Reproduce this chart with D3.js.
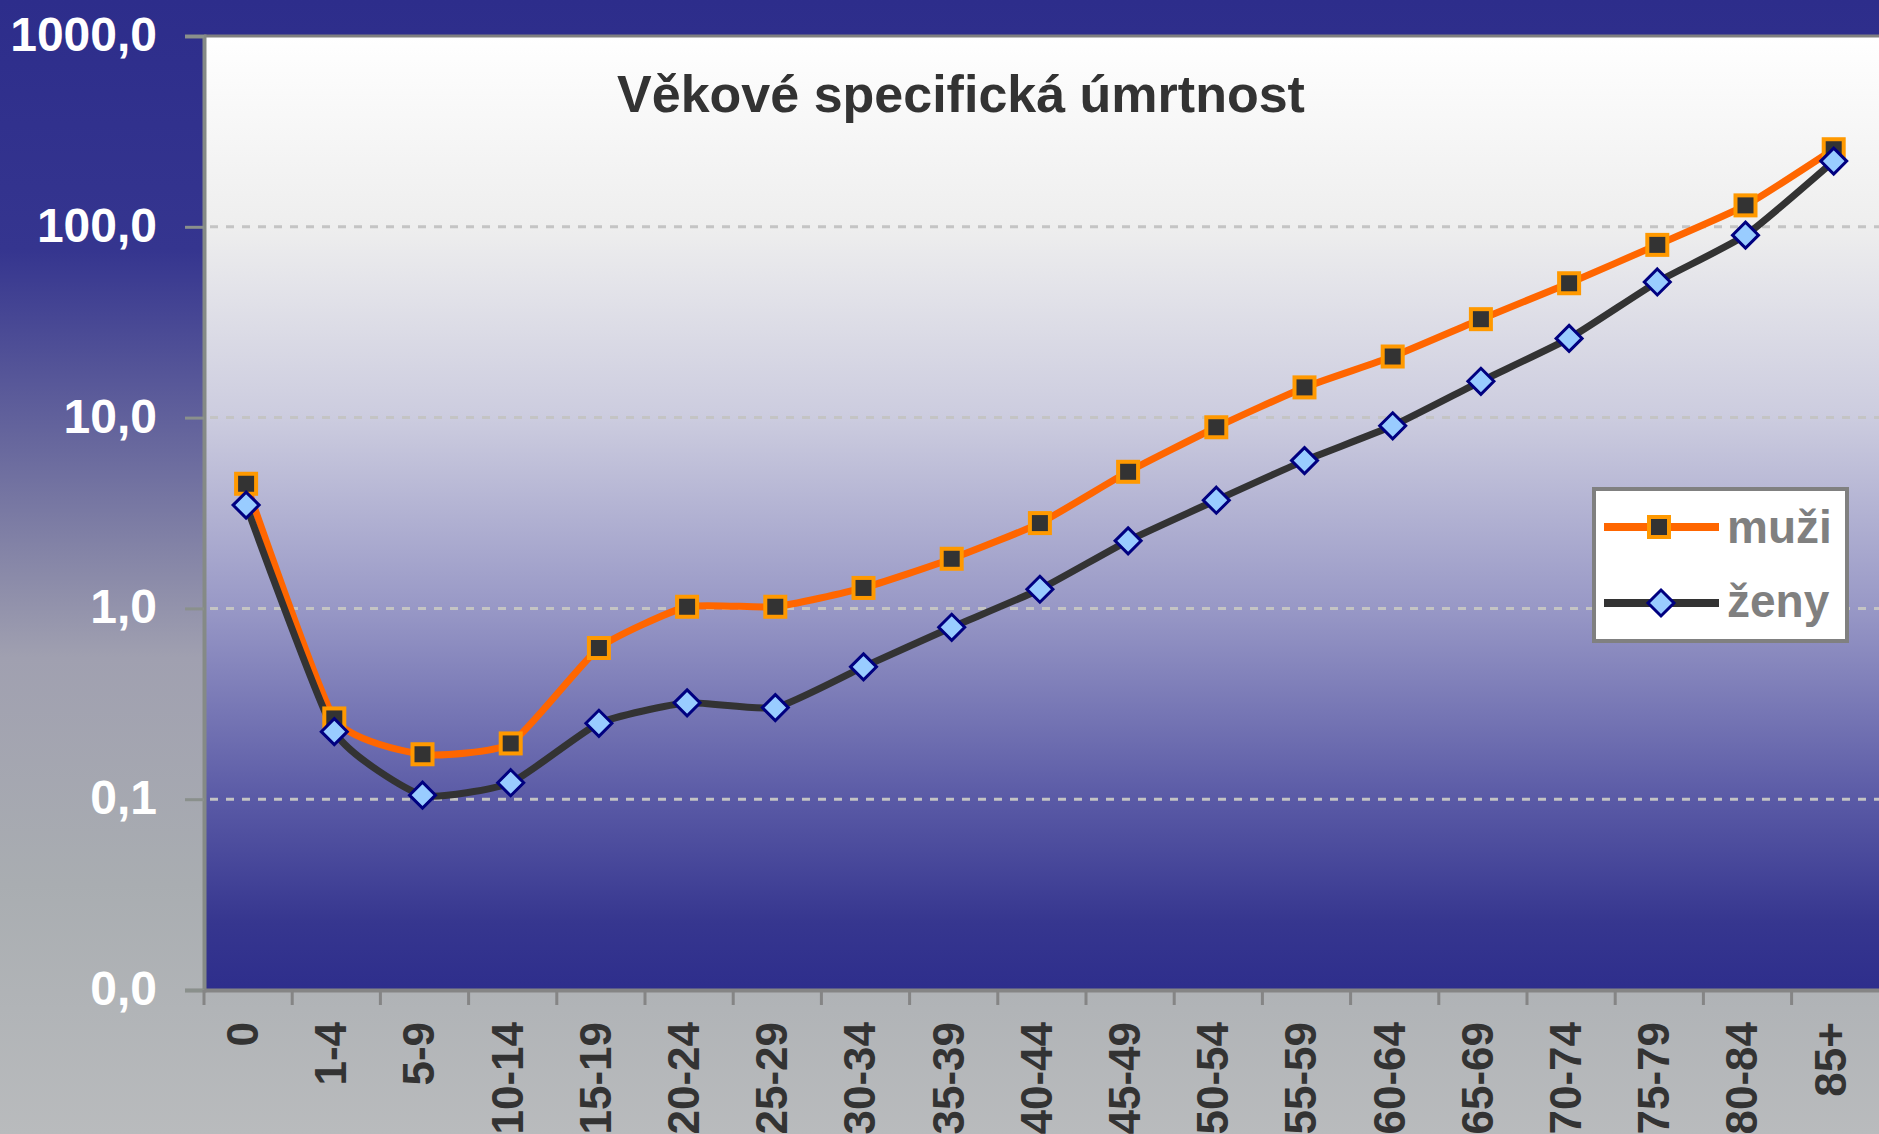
<!DOCTYPE html>
<html>
<head>
<meta charset="utf-8">
<script src="https://cdn.jsdelivr.net/npm/d3@7"></script>
<style>
  html, body { margin: 0; padding: 0; background: #b8babc; }
  svg text { font-family: "Liberation Sans", Arial, sans-serif; font-weight: bold; }
</style>
</head>
<body>
<svg id="chart" width="1879" height="1134"></svg>
<script>

  var ages = ['0', '1-4', '5-9', '10-14', '15-19', '20-24', '25-29', '30-34', '35-39',
    '40-44', '45-49', '50-54', '55-59', '60-64', '65-69', '70-74', '75-79', '80-84', '85+'];
  var muzi = [4.5, 0.265, 0.172, 0.196, 0.62, 1.02, 1.02, 1.28, 1.82, 2.8, 5.2, 8.9,
    14.4, 20.9, 32.8, 50.6, 80.4, 129.5, 255];
  var zeny = [3.48, 0.226, 0.105, 0.122, 0.25, 0.32, 0.302, 0.494, 0.796, 1.26, 2.26, 3.69,
    5.95, 9.06, 15.5, 26.0, 51.4, 90.4, 221];
  var yTicks = [0.01, 0.1, 1, 10, 100, 1000];
  var gridTicks = [0.1, 1, 10, 100];
  var title = 'Věkové specifická úmrtnost';
  var seriesNames = ['muži', 'ženy'];

  var W = 1879, H = 1134;
  var plotLeft = 204, plotTop = 36, plotBottom = 990;
  var band = 88.2;

  var svg = d3.select('#chart');
  var defs = svg.append('defs');

  // outer background gradient
  var bg = defs.append('linearGradient').attr('id', 'bgGrad')
    .attr('x1', 0).attr('y1', 0).attr('x2', 0).attr('y2', 1);
  [[0, '#2d2d8b'], [0.22, '#35358f'], [0.4, '#6a6a9e'], [0.58, '#a0a0b0'],
   [0.78, '#a9adb1'], [1, '#b9bbbd']].forEach(function (s) {
    bg.append('stop').attr('offset', s[0]).attr('stop-color', s[1]);
  });

  // plot area gradient
  var pg = defs.append('linearGradient').attr('id', 'plotGrad')
    .attr('x1', 0).attr('y1', 0).attr('x2', 0).attr('y2', 1);
  [[0, '#ffffff'], [0.2, '#eeeeee'], [0.4, '#ccccdf'], [0.6, '#9898c6'],
   [0.8, '#5a5aa6'], [0.93, '#36368f'], [1, '#2e2e8c']].forEach(function (s) {
    pg.append('stop').attr('offset', s[0]).attr('stop-color', s[1]);
  });

  svg.append('rect').attr('width', W).attr('height', H).attr('fill', 'url(#bgGrad)');

  var x = d3.scaleBand().domain(ages).range([plotLeft, plotLeft + band * ages.length]);
  var y = d3.scaleLog().domain([0.01, 1000]).range([plotBottom, plotTop]);
  var cx = function (d) { return x(d) + x.bandwidth() / 2 - 2; };

  svg.append('rect')
    .attr('x', plotLeft).attr('y', plotTop)
    .attr('width', W - plotLeft).attr('height', plotBottom - plotTop)
    .attr('fill', 'url(#plotGrad)');

  // dashed grid
  svg.selectAll('.grid').data(gridTicks).enter()
    .append('line')
      .attr('x1', plotLeft + 6).attr('x2', W)
      .attr('y1', function (d) { return y(d); })
      .attr('y2', function (d) { return y(d); })
      .attr('stroke', '#c4c4c4')
      .attr('stroke-width', 3)
      .attr('stroke-dasharray', '8 8');

  // top border
  svg.append('line')
    .attr('x1', plotLeft).attr('x2', W).attr('y1', plotTop).attr('y2', plotTop)
    .attr('stroke', '#808080').attr('stroke-width', 3);

  // y axis
  var fmt = function (d) { return d3.format('.1f')(d).replace('.', ','); };
  var yAxis = svg.append('g')
    .attr('transform', 'translate(' + plotLeft + ',0)')
    .call(d3.axisLeft(y).tickValues(yTicks).tickFormat(fmt).tickSize(19).tickPadding(28));
  yAxis.select('.domain').attr('stroke', '#858a86').attr('stroke-width', 4);
  yAxis.selectAll('.tick line').attr('stroke', '#8a908c').attr('stroke-width', 3);
  yAxis.selectAll('.tick text')
    .attr('fill', '#ffffff')
    .style('font-size', '48px')
    .attr('dy', '0.3em');

  // x axis
  var xAxis = svg.append('g')
    .attr('transform', 'translate(0,' + plotBottom + ')')
    .call(d3.axisBottom(x).tickSize(0).tickPadding(0));
  xAxis.select('.domain').attr('stroke', '#858585').attr('stroke-width', 4);
  xAxis.selectAll('.tick text')
    .attr('fill', '#333333')
    .style('font-size', '44px')
    .attr('text-anchor', 'end')
    .attr('transform', 'translate(-6,32) rotate(-90)')
    .attr('x', 0).attr('y', 0)
    .attr('dy', '0.36em');

  // tick marks between categories
  xAxis.selectAll('.sep').data(ages).enter()
    .append('line')
      .attr('x1', function (d) { return x(d); })
      .attr('x2', function (d) { return x(d); })
      .attr('y1', 0).attr('y2', 15)
      .attr('stroke', '#858585').attr('stroke-width', 3);

  // title
  svg.append('text')
    .attr('x', 961).attr('y', 112)
    .attr('text-anchor', 'middle')
    .attr('fill', '#333333')
    .style('font-size', '52px')
    .text(title);

  var line = d3.line()
    .x(function (d, i) { return cx(ages[i]); })
    .y(function (d) { return y(d); })
    .curve(d3.curveCardinal.tension(0.5));

  var square = function (g) {
    g.attr('width', 20).attr('height', 20)
      .attr('fill', '#333333').attr('stroke', '#ff9900').attr('stroke-width', 4);
  };
  var diamond = 'M0,-13L13,0L0,13L-13,0Z';
  var dia = function (g) {
    g.attr('d', diamond)
      .attr('fill', '#99ccff').attr('stroke', '#000080').attr('stroke-width', 3);
  };

  svg.append('path').datum(muzi)
    .attr('d', line).attr('fill', 'none')
    .attr('stroke', '#ff6600').attr('stroke-width', 7);

  svg.append('path').datum(zeny)
    .attr('d', line).attr('fill', 'none')
    .attr('stroke', '#333333').attr('stroke-width', 7);

  svg.selectAll('.m').data(muzi).enter()
    .append('rect')
      .attr('x', function (d, i) { return cx(ages[i]) - 10; })
      .attr('y', function (d) { return y(d) - 10; })
      .call(square);

  svg.selectAll('.z').data(zeny).enter()
    .append('path')
      .attr('transform', function (d, i) {
        return 'translate(' + cx(ages[i]) + ',' + y(d) + ')';
      })
      .call(dia);

  // legend
  var lg = svg.append('g');
  lg.append('rect')
    .attr('x', 1594).attr('y', 489).attr('width', 253).attr('height', 152)
    .attr('fill', '#ffffff').attr('stroke', '#808080').attr('stroke-width', 4);

  var rows = [527, 603];
  lg.append('line').attr('x1', 1604).attr('x2', 1719).attr('y1', rows[0]).attr('y2', rows[0])
    .attr('stroke', '#ff6600').attr('stroke-width', 8);
  lg.append('rect').attr('x', 1649).attr('y', rows[0] - 10).call(square);
  lg.append('line').attr('x1', 1604).attr('x2', 1719).attr('y1', rows[1]).attr('y2', rows[1])
    .attr('stroke', '#333333').attr('stroke-width', 8);
  lg.append('path').attr('transform', 'translate(1661,' + rows[1] + ')').call(dia);

  lg.selectAll('.lt').data(seriesNames).enter()
    .append('text')
      .attr('x', 1727)
      .attr('y', function (d, i) { return rows[i] + 16 - i * 2; })
      .attr('fill', '#808080')
      .style('font-size', '46px')
      .text(function (d) { return d; });

</script>
</body>
</html>
